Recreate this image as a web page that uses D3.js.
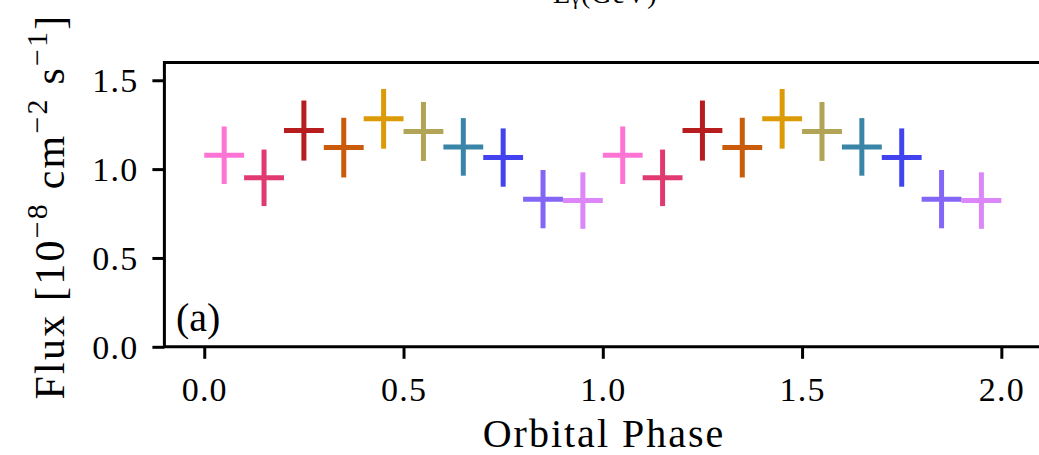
<!DOCTYPE html>
<html>
<head>
<meta charset="utf-8">
<script src="https://cdn.jsdelivr.net/npm/d3@7"></script>
<style>
  html, body { margin: 0; padding: 0; background: #fff; }
  svg { display: block; }
  text { font-family: "Liberation Serif", "Times New Roman", serif; fill: #000; }
</style>
</head>
<body>
<svg id="chart" width="1039" height="455"></svg>
<script>
// ---- data ----
const phase = [0.05, 0.15, 0.25, 0.35, 0.45, 0.55, 0.65, 0.75, 0.85, 0.95,
               1.05, 1.15, 1.25, 1.35, 1.45, 1.55, 1.65, 1.75, 1.85, 1.95];
const flux = [1.078, 0.951, 1.217, 1.121, 1.283, 1.212, 1.125, 1.065, 0.831, 0.823,
              1.078, 0.951, 1.217, 1.121, 1.283, 1.212, 1.125, 1.065, 0.831, 0.823];
const fluxErr = [0.162, 0.159, 0.169, 0.168, 0.168, 0.166, 0.162, 0.164, 0.164, 0.159,
                 0.162, 0.159, 0.169, 0.168, 0.168, 0.166, 0.162, 0.164, 0.164, 0.159];
const phaseErr = [0.05, 0.05, 0.05, 0.05, 0.05, 0.05, 0.05, 0.05, 0.05, 0.05,
                  0.05, 0.05, 0.05, 0.05, 0.05, 0.05, 0.05, 0.05, 0.05, 0.05];
const colors = ["#fd74d4", "#e03a70", "#b71d1e", "#c95b0a", "#dc9b06", "#b1a456",
                "#3985a7", "#4242ef", "#8466f7", "#dc86f9",
                "#fd74d4", "#e03a70", "#b71d1e", "#c95b0a", "#dc9b06", "#b1a456",
                "#3985a7", "#4242ef", "#8466f7", "#dc86f9"];
const xTicks = [0.0, 0.5, 1.0, 1.5, 2.0];
const yTicks = [0.0, 0.5, 1.0, 1.5];
const xDomain = [-0.1, 2.1];
const yDomain = [0, 1.6];

// ---- layout ----
const pL = 164.4, pR = 1041.2, pT = 62.5, pB = 346.8;
const svg = d3.select("#chart");
svg.append("rect").attr("width", 1039).attr("height", 455).attr("fill", "#fff");

const x = d3.scaleLinear().domain(xDomain).range([pL, pR]);
const y = d3.scaleLinear().domain(yDomain).range([pB, pT]);

// error-bar crosses
const g = svg.append("g");
phase.forEach((p, i) => {
  g.append("line")
    .attr("x1", x(p - phaseErr[i])).attr("x2", x(p + phaseErr[i]))
    .attr("y1", y(flux[i])).attr("y2", y(flux[i]))
    .attr("stroke", colors[i]).attr("stroke-width", 5);
  g.append("line")
    .attr("x1", x(p)).attr("x2", x(p))
    .attr("y1", y(flux[i] - fluxErr[i])).attr("y2", y(flux[i] + fluxErr[i]))
    .attr("stroke", colors[i]).attr("stroke-width", 5);
});

// axes
const xAxis = d3.axisBottom(x).tickValues(xTicks).tickFormat(d3.format(".1f"))
  .tickSizeInner(12).tickSizeOuter(0).tickPadding(8);
const yAxis = d3.axisLeft(y).tickValues(yTicks).tickFormat(d3.format(".1f"))
  .tickSizeInner(12).tickSizeOuter(0).tickPadding(14);

const gx = svg.append("g").attr("transform", `translate(0,${pB})`).call(xAxis);
const gy = svg.append("g").attr("transform", `translate(${pL},0)`).call(yAxis);
[gx, gy].forEach(a => {
  a.select(".domain").remove();
  a.selectAll(".tick line").attr("stroke", "#000").attr("stroke-width", 3);
  a.selectAll(".tick text").attr("fill", "#000")
    .style("font-family", "'Liberation Serif', serif")
    .style("font-size", "34px").style("letter-spacing", "1.2px");
});
gx.selectAll(".tick text").attr("dy", "0.71em").attr("y", 30);
gy.selectAll(".tick text").attr("dy", "0.34em");

// spines (left, top, bottom)
svg.append("path")
  .attr("d", `M${pR},${pT}H${pL}V${pB}H${pR}`)
  .attr("fill", "none").attr("stroke", "#000").attr("stroke-width", 3);

// x label
svg.append("text")
  .attr("x", 604).attr("y", 447)
  .attr("text-anchor", "middle")
  .style("font-size", "40px").style("letter-spacing", "2px")
  .text("Orbital Phase");

// y label
const yl = svg.append("text")
  .attr("transform", "translate(64,206.5) rotate(-90)")
  .attr("text-anchor", "middle")
  .style("font-size", "42px").style("letter-spacing", "2.2px");
yl.append("tspan").text("Flux [10");
yl.append("tspan").attr("dy", -17).style("font-size", "30px").text("\u22128");
yl.append("tspan").attr("dy", 17).text(" cm");
yl.append("tspan").attr("dy", -17).style("font-size", "30px").text("\u22122");
yl.append("tspan").attr("dy", 17).text(" s");
yl.append("tspan").attr("dy", -17).style("font-size", "30px").text("\u22121");
yl.append("tspan").attr("dy", 17).text("]");

// panel tag
svg.append("text").attr("x", 176).attr("y", 331)
  .style("font-size", "40px").text("(a)");

// clipped label from panel above (only its lowest edge shows)
const tl = svg.append("text").attr("x", 553).attr("y", 3)
  .style("font-size", "28px").style("letter-spacing", "1px").attr("fill", "#333");
tl.append("tspan").text("E");
tl.append("tspan").attr("dy", 1).style("font-size", "20px").text("\u03b3");
tl.append("tspan").attr("dy", -1).text("(GeV)");
</script>
</body>
</html>
